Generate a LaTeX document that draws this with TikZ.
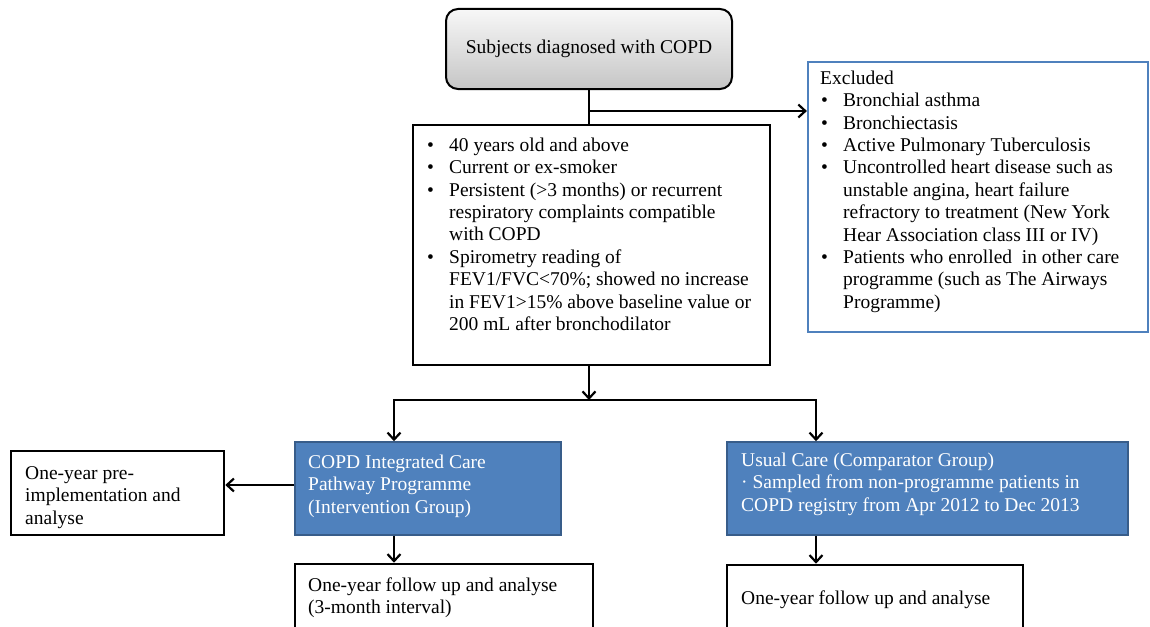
\documentclass[tikz,border=0pt]{standalone}
\usepackage{fontspec}
\setmainfont{Liberation Serif}
\usetikzlibrary{arrows.meta,calc}
\definecolor{bluefill}{HTML}{4F81BD}
\definecolor{blueedge}{HTML}{385D8A}
\newcommand\myBul{\makebox[22pt][l]{\textbullet}}
\newcommand\myInd{\hspace*{22pt}}
\newcommand\myStrut{\rule{0pt}{16pt}}
\begin{document}
\begin{tikzpicture}[x=1pt,y=-1pt,
  font=\fontsize{19.5}{22.4}\selectfont,
  plainbox/.style={draw=black,line width=2.6pt,fill=white,inner sep=0pt,rectangle},
  bluebox/.style={draw=blueedge,line width=1.6pt,fill=bluefill,inner sep=0pt,rectangle},
  exclbox/.style={draw=bluefill,line width=2.2pt,fill=white,inner sep=0pt,rectangle},
  topbox/.style={draw=black,line width=2pt,rounded corners=12pt,top color=gray!6,bottom color=gray!45,inner sep=0pt},
  txt/.style={anchor=north west,inner sep=0pt,align=left},
  conn/.style={line width=2.2pt,draw=black},
  arr/.style={conn,-{Straight Barb[length=7pt,width=13pt]}},
  darr/.style={conn,{Straight Barb[length=7pt,width=13pt]}-{Straight Barb[length=7pt,width=13pt]}}
]
\useasboundingbox (0,0) rectangle (1150,626);
\fill[white] (0,0) rectangle (1150,626);
\clip (0,0) rectangle (1150,626);

% boxes
\node[topbox,minimum width=286pt,minimum height=80pt] (top) at (589,49) {Subjects diagnosed with COPD};
\node[plainbox,minimum width=357pt,minimum height=240pt] (crit) at (591.5,245) {};
\node[exclbox,minimum width=340pt,minimum height=270pt] (excl) at (978,197) {};
\node[bluebox,minimum width=266pt,minimum height=93pt] (blueA) at (428,488.5) {};
\node[plainbox,minimum width=213pt,minimum height=84pt] (pre) at (117.5,493) {};
\node[plainbox,minimum width=298pt,minimum height=90pt] (fupA) at (444,609) {};
\node[bluebox,minimum width=401pt,minimum height=93pt] (blueB) at (927.5,488.5) {};
\node[plainbox,minimum width=296pt,minimum height=90pt] (fupB) at (875,610) {};

% texts
\node[txt] (critT) at (427,135) {\myStrut\myBul 40 years old and above\\
\myBul Current or ex-smoker\\
\myBul Persistent (>3 months) or recurrent\\
\myInd respiratory complaints compatible\\
\myInd with COPD\\
\myBul Spirometry reading of\\
\myInd FEV1/FVC<70\%; showed no increase\\
\myInd in FEV1>15\% above baseline value or\\
\myInd 200 mL after bronchodilator};

\node[txt] (exclT) at (820,68) {\myStrut Excluded\\
\hspace*{1pt}\myBul Bronchial asthma\\
\hspace*{1pt}\myBul Bronchiectasis\\
\hspace*{1pt}\myBul Active Pulmonary Tuberculosis\\
\hspace*{1pt}\myBul Uncontrolled heart disease such as\\
\hspace*{1pt}\myInd unstable angina, heart failure\\
\hspace*{1pt}\myInd refractory to treatment (New York\\
\hspace*{1pt}\myInd Hear Association class III or IV)\\
\hspace*{1pt}\myBul Patients who enrolled\ \ in other care\\
\hspace*{1pt}\myInd programme (such as The Airways\\
\hspace*{1pt}\myInd Programme)};

\node[txt,text=white] (blueAT) at (308,452) {\myStrut COPD Integrated Care\\Pathway Programme\\(Intervention Group)};
\node[txt] (preT) at (25,463) {\myStrut One-year pre-\\implementation and\\analyse};
\node[txt] (fupAT) at (308,575) {\myStrut One-year follow up and analyse\\(3-month interval)};
\node[txt,text=white] (blueBT) at (741,450) {\myStrut Usual Care (Comparator Group)\\{\textperiodcentered} Sampled from non-programme patients in\\COPD registry from Apr 2012 to Dec 2013};
\node[txt] (fupBT) at (741,588) {\myStrut One-year follow up and analyse};

% connectors
\coordinate (br) at (589,111);
\coordinate (sp) at (589,400);
\coordinate (sL) at (394,400);
\coordinate (sR) at (816,400);
\draw[conn] (top.south) -- (top.south |- crit.north);
\draw[arr] (br) -- (br -| excl.west);
\draw[arr] (sp |- crit.south) -- (sp);
\draw[darr] (sL |- blueA.north) -- (sL) -- (sR) -- (sR |- blueB.north);
\draw[arr] (blueA.west |- 0,485) -- (pre.east |- 0,485);
\draw[arr] (sL |- blueA.south) -- (sL |- fupA.north);
\draw[arr] (sR |- blueB.south) -- (sR |- fupB.north);
\end{tikzpicture}
\end{document}
